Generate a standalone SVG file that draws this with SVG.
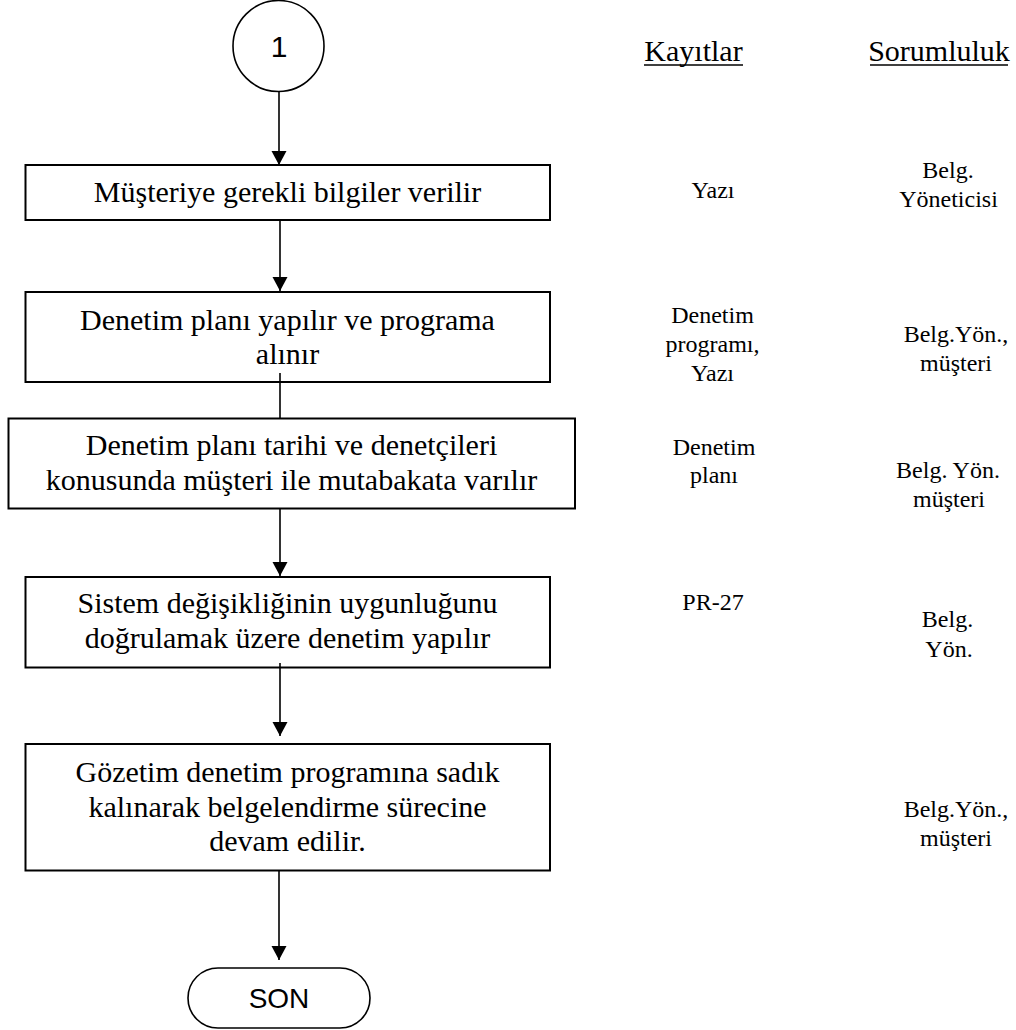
<svg xmlns="http://www.w3.org/2000/svg" width="1016" height="1030" viewBox="0 0 1016 1030">
<style>
.box{fill:#fff;stroke:#000;stroke-width:2}
.t{font-family:"Liberation Serif","Times New Roman",serif;font-size:30px;fill:#000;text-anchor:middle}
.s{font-family:"Liberation Serif","Times New Roman",serif;font-size:24px;fill:#000;text-anchor:middle}
.a{font-family:"Liberation Sans",Arial,sans-serif;font-size:28px;fill:#000;text-anchor:middle}
.c{stroke:#000;stroke-width:1.6;fill:none}
</style>
<defs>
<marker id="arr" markerUnits="userSpaceOnUse" markerWidth="16" markerHeight="16" refX="14" refY="8" orient="auto" viewBox="0 0 16 16">
<path d="M0,0.5 L14,8 L0,15.5 Z" fill="#000"/>
</marker>
</defs>
<rect width="1016" height="1030" fill="#fff"/>
<g id="headers">
<text class="t" x="693.5" y="61">Kayıtlar</text>
<line x1="644" y1="65" x2="743" y2="65" stroke="#000" stroke-width="1.5"/>
<text class="t" x="939" y="61">Sorumluluk</text>
<line x1="870" y1="65" x2="1008" y2="65" stroke="#000" stroke-width="1.5"/>
</g>
<g id="start">
<circle cx="278.5" cy="46" r="45.5" fill="#fff" stroke="#000" stroke-width="1.6"/>
<text class="a" x="279" y="57" style="font-size:30px">1</text>
</g>
<g id="n1">
<rect class="box" x="25.5" y="165" width="524.5" height="55"/>
<text class="t" x="287.5" y="202">Müşteriye gerekli bilgiler verilir</text>
</g>
<g id="n2">
<rect class="box" x="25.5" y="292" width="524.5" height="90"/>
<text class="t" x="287.5" y="330">Denetim planı yapılır ve programa</text>
<text class="t" x="287.5" y="364">alınır</text>
</g>
<g id="n3">
<rect class="box" x="8.5" y="418.5" width="566.5" height="90"/>
<text class="t" x="291.5" y="455">Denetim planı tarihi ve denetçileri</text>
<text class="t" x="291.5" y="490">konusunda müşteri ile mutabakata varılır</text>
</g>
<g id="n4">
<rect class="box" x="25.5" y="577" width="524.5" height="90.5"/>
<text class="t" x="287.5" y="613">Sistem değişikliğinin uygunluğunu</text>
<text class="t" x="287.5" y="648">doğrulamak üzere denetim yapılır</text>
</g>
<g id="n5">
<rect class="box" x="25.5" y="744" width="524.5" height="126.5"/>
<text class="t" x="287.5" y="782">Gözetim denetim programına sadık</text>
<text class="t" x="287.5" y="817">kalınarak belgelendirme sürecine</text>
<text class="t" x="287.5" y="851">devam edilir.</text>
</g>
<g id="end">
<rect x="188" y="968" width="182" height="60" rx="30" ry="30" fill="#fff" stroke="#000" stroke-width="1.6"/>
<text class="a" x="279" y="1008">SON</text>
</g>
<g id="records">
<text class="s" x="713" y="198">Yazı</text>
<text class="s" x="712.5" y="323">Denetim</text>
<text class="s" x="712.5" y="352">programı,</text>
<text class="s" x="712.5" y="381">Yazı</text>
<text class="s" x="714" y="455">Denetim</text>
<text class="s" x="714" y="483">planı</text>
<text class="s" x="713" y="610">PR-27</text>
</g>
<g id="responsibility">
<text class="s" x="948" y="178">Belg.</text>
<text class="s" x="948.5" y="207">Yöneticisi</text>
<text class="s" x="956" y="342">Belg.Yön.,</text>
<text class="s" x="956" y="371">müşteri</text>
<text class="s" x="948" y="478">Belg. Yön.</text>
<text class="s" x="949" y="507">müşteri</text>
<text class="s" x="947.5" y="627">Belg.</text>
<text class="s" x="949" y="657">Yön.</text>
<text class="s" x="956" y="817">Belg.Yön.,</text>
<text class="s" x="956" y="846">müşteri</text>
</g>
<g id="connectors">
<line class="c" x1="279" y1="92" x2="279" y2="165" marker-end="url(#arr)"/>
<line class="c" x1="280" y1="220" x2="280" y2="291" marker-end="url(#arr)"/>
<line class="c" x1="280" y1="373" x2="280" y2="418"/>
<line class="c" x1="280" y1="508" x2="280" y2="576" marker-end="url(#arr)"/>
<line class="c" x1="280" y1="663" x2="280" y2="736" marker-end="url(#arr)"/>
<line class="c" x1="279" y1="871" x2="279" y2="960" marker-end="url(#arr)"/>
</g>
</svg>
